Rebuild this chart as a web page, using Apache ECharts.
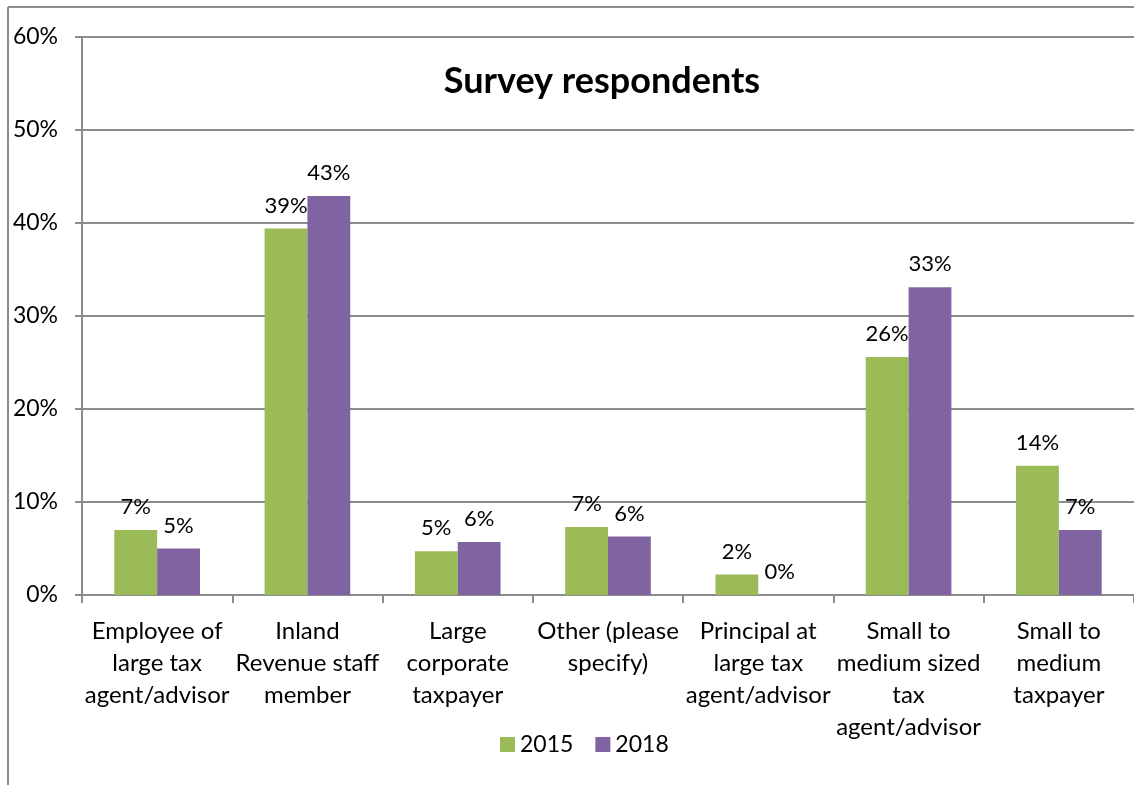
<!DOCTYPE html>
<html>
<head>
<meta charset="utf-8">
<script src="https://cdn.jsdelivr.net/npm/echarts@6/dist/echarts.min.js"></script>
<style>
  html, body { margin: 0; padding: 0; background: #fff; }
  #chart { width: 1134px; height: 785px; }
</style>
</head>
<body>
<div id="chart"></div>
<script>
// categories and values (percent)
const categories = [
  'Employee of\nlarge tax\nagent/advisor',
  'Inland\nRevenue staff\nmember',
  'Large\ncorporate\ntaxpayer',
  'Other (please\nspecify)',
  'Principal at\nlarge tax\nagent/advisor',
  'Small to\nmedium sized\ntax\nagent/advisor',
  'Small to\nmedium\ntaxpayer'
]
const values2015 = [7.0, 39.4, 4.7, 7.3, 2.2, 25.6, 13.9]
const values2018 = [5.0, 42.9, 5.7, 6.3, 0, 33.1, 7.0]
const yTicks = [0, 10, 20, 30, 40, 50, 60]

const font = 'Lato, "Open Sans", sans-serif'
const chart = echarts.init(document.getElementById('chart'))

const labelStyle = {
  show: true,
  position: 'top',
  distance: 12,
  color: '#000',
  fontSize: 22,
  fontFamily: font,
  formatter: p => Math.round(p.value) + '%'
}

chart.setOption({
  animation: false,
  backgroundColor: '#fff',
  title: {
    text: 'Survey respondents',
    left: 597,
    textAlign: 'center',
    top: 58,
    textStyle: { fontSize: 36, fontWeight: 'bold', color: '#000', fontFamily: font }
  },
  legend: {
    data: ['2015', '2018'],
    left: 495,
    bottom: 24,
    itemWidth: 15,
    itemHeight: 15,
    itemGap: 22,
    icon: 'rect',
    textStyle: { fontSize: 23, color: '#000', fontFamily: font }
  },
  graphic: [
    { type: 'line', shape: { x1: 8, y1: 7, x2: 1134, y2: 7 }, style: { stroke: '#8c8c8c', lineWidth: 2 } },
    { type: 'line', shape: { x1: 8, y1: 7, x2: 8, y2: 785 }, style: { stroke: '#8c8c8c', lineWidth: 2 } }
  ],
  grid: { left: 82, top: 37, width: 1059, height: 558 },
  xAxis: {
    type: 'category',
    data: categories,
    axisLine: { lineStyle: { color: '#8c8c8c', width: 2 } },
    axisTick: { show: true, length: 8, lineStyle: { color: '#8c8c8c', width: 2 } },
    axisLabel: {
      interval: 0,
      margin: 20,
      color: '#000',
      fontSize: 24,
      lineHeight: 32,
      fontFamily: font
    }
  },
  yAxis: {
    type: 'value',
    min: yTicks[0],
    max: yTicks[yTicks.length - 1],
    interval: 10,
    axisLine: { show: true, lineStyle: { color: '#8c8c8c', width: 2 } },
    axisTick: { show: true, length: 7, lineStyle: { color: '#8c8c8c', width: 2 } },
    splitLine: { lineStyle: { color: '#8c8c8c', width: 2 } },
    axisLabel: {
      margin: 24,
      color: '#000',
      fontSize: 23,
      fontFamily: font,
      formatter: v => v + '%'
    }
  },
  series: [
    {
      name: '2015',
      type: 'bar',
      data: values2015,
      barGap: '0%',
      barCategoryGap: '43%',
      itemStyle: { color: '#9bbb59' },
      label: labelStyle
    },
    {
      name: '2018',
      type: 'bar',
      data: values2018,
      itemStyle: { color: '#8064a2' },
      label: labelStyle
    }
  ]
})
</script>
</body>
</html>
